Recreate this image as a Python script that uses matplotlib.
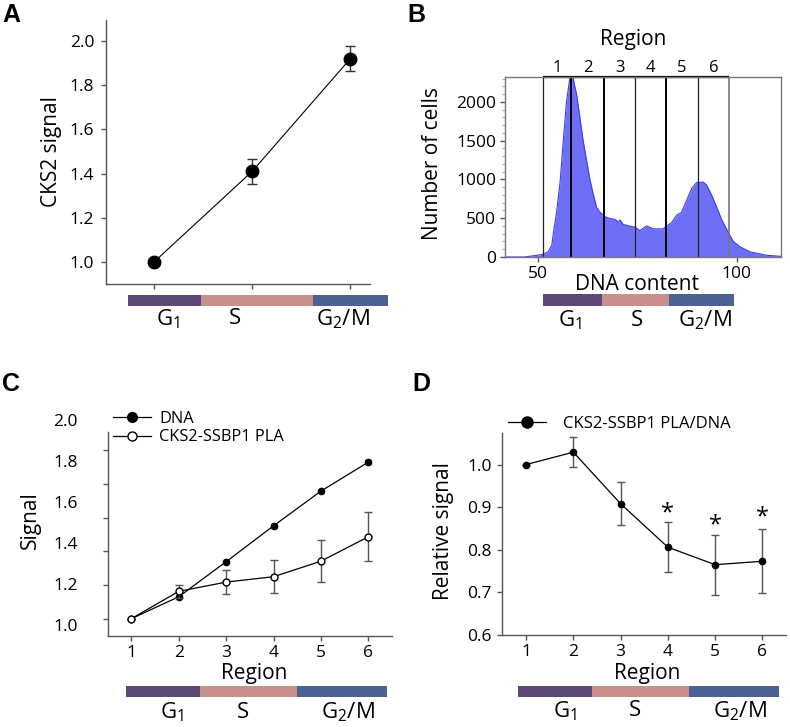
import matplotlib.pyplot as plt
import numpy as np
from matplotlib.lines import Line2D

plt.rcParams['font.family'] = ['Open Sans', 'DejaVu Sans']
plt.rcParams['axes.linewidth'] = 1.0

W, H = 790, 727

# ---- data -------------------------------------------------------------
# A: CKS2 signal per cell cycle phase
phase_x = [1, 2, 3]
cks2_signal = [1.00, 1.41, 1.92]
cks2_err = [0.0, 0.057, 0.058]

# B: DNA content histogram
dna_content = [42.0, 46.4, 48.7, 51.3, 52.5, 53.4, 53.8, 54.6, 55.5, 56.3, 57.1,
               58.0, 58.8, 59.7, 61.3, 63.0, 63.9, 64.7, 65.5, 66.8, 68.1, 69.3,
               70.2, 70.6, 71.4, 73.1, 74.4, 75.6, 77.3, 79.0, 81.5, 82.4, 83.6,
               84.9, 86.1, 87.4, 88.7, 89.9, 91.6, 92.4, 93.7, 95.0, 96.2, 97.5,
               98.2, 99.2, 100.8, 103.4, 107.6, 110.9, 111.2]
cell_counts = [0, 0, 15, 35, 70, 150, 310, 575, 970, 1500, 2000,
               2320, 2300, 2080, 1500, 1000, 800, 640, 580, 520, 495, 487,
               450, 478, 420, 398, 385, 340, 400, 363, 363, 400, 442,
               540, 575, 730, 885, 960, 965, 930, 800, 640, 487, 354,
               288, 200, 133, 66, 22, 9, 9]
region_edges = [51.3, 58.2, 66.6, 74.4, 82.1, 90.2, 98.2]
region_names = ['1', '2', '3', '4', '5', '6']

# C: signal per region
regions = [1, 2, 3, 4, 5, 6]
dna_signal = [1.00, 1.130, 1.338, 1.551, 1.757, 1.929]
dna_err = [0.0, 0.008, 0.010, 0.012, 0.008, 0.010]
pla_signal = [1.00, 1.162, 1.217, 1.249, 1.341, 1.486]
pla_err = [0.0, 0.040, 0.070, 0.098, 0.126, 0.146]

# D: relative signal PLA/DNA
rel_signal = [1.000, 1.029, 0.908, 0.806, 0.765, 0.773]
rel_err = [0.0, 0.035, 0.050, 0.058, 0.070, 0.075]
signif_regions = [4, 5, 6]
signif_y = [0.885, 0.857, 0.875]

# phase bars: fractional boundaries of G1 / S / G2M along each bar
phase_labels = ['$\\mathregular{G_1}$', 'S', '$\\mathregular{G_2/M}$']
phase_colors = ['#5d4878', '#c98f8d', '#4a6192']

GRAY = '#555555'


def fx(x):
    return x / W


def fy(y):
    return 1 - y / H


def box(l, t, r, b):
    return [fx(l), fy(b), (r - l) / W, (b - t) / H]


def style_ax(ax):
    for s in ['top', 'right']:
        ax.spines[s].set_visible(False)
    for s in ['left', 'bottom']:
        ax.spines[s].set_color(GRAY)
    ax.tick_params(colors=GRAY, labelcolor='black', length=3.5, width=1,
                   labelsize=12.5, pad=3)


def phase_bar(l, t, r, b, bounds, label_pos, label_y):
    bax = fig.add_axes(box(l, t, r, b))
    starts = [0] + bounds
    ends = bounds + [1]
    bax.barh(0, np.subtract(ends, starts), left=starts, height=1,
             color=phase_colors)
    bax.set_xlim(0, 1)
    bax.set_ylim(-0.5, 0.5)
    bax.axis('off')
    for lab, p in zip(phase_labels, label_pos):
        fig.text(fx(l + p * (r - l)), fy(label_y), lab, ha='center',
                 va='center', fontsize=16)


fig = plt.figure(figsize=(W / 100, H / 100), dpi=100)

# ---- A ------------------------------------------------------------------
axA = fig.add_axes(box(106, 20, 370, 284))
axA.errorbar(phase_x, cks2_signal, yerr=cks2_err, fmt='-o', color='black',
             lw=0.8, ms=9, ecolor='#333333', elinewidth=1, capsize=3.5)
axA.set_xlim(0.51, 3.2)
axA.set_ylim(0.90, 2.095)
axA.set_xticks(phase_x)
axA.set_xticklabels([])
axA.set_yticks([1.0, 1.2, 1.4, 1.6, 1.8, 2.0])
axA.set_yticklabels(['1.0', '1.2', '1.4', '1.6', '1.8', '2.0'])
style_ax(axA)
axA.tick_params(axis='y', pad=5)
fig.text(fx(52), fy(152), 'CKS2 signal', rotation=90, ha='center',
         va='center', fontsize=15)
phase_bar(128, 295, 388, 306, [0.281, 0.712], [0.154, 0.41, 0.827], 319)

# ---- B ------------------------------------------------------------------
axB = fig.add_axes(box(505, 77, 781, 257))
axB.fill_between(dna_content, cell_counts, color='#6e6ef6', lw=0)
axB.plot(dna_content, cell_counts, color='#3d3df0', lw=0.8)
axB.set_xlim(41.6, 111.2)
axB.set_ylim(0, 2320)
edge_w = [0.9, 1.4, 1.4, 0.9, 1.4, 0.9, 1.2]
edge_c = ['#222222', 'black', 'black', '#222222', 'black', '#222222', '#777777']
for e, w, c in zip(region_edges, edge_w, edge_c):
    axB.axvline(e, color=c, lw=w)
axB.hlines(2320, region_edges[0], region_edges[-1], color='black', lw=1.6,
           clip_on=False)
for i, name in enumerate(region_names):
    mid = (region_edges[i] + region_edges[i + 1]) / 2
    axB.text(mid, 1.05, name, transform=axB.get_xaxis_transform(),
             ha='center', va='center', fontsize=12)
axB.set_xticks([50, 100])
axB.set_yticks([0, 500, 1000, 1500, 2000])
axB.set_yticks(np.arange(0, 2320, 100), minor=True)
for s in axB.spines.values():
    s.set_color('#777777')
axB.tick_params(colors=GRAY, labelcolor='black', length=3.5, width=1,
                labelsize=12.5, pad=3)
axB.tick_params(axis='y', which='minor', length=2, width=0.6, colors='#999999')
fig.text(fx(633), fy(39), 'Region', ha='center', va='center', fontsize=15)
fig.text(fx(637), fy(284), 'DNA content', ha='center', va='center',
         fontsize=15)
fig.text(fx(433), fy(164), 'Number of cells', rotation=90, ha='center',
         va='center', fontsize=15)
phase_bar(543, 294, 734, 306, [0.309, 0.660], [0.141, 0.492, 0.848], 320)

# ---- C ------------------------------------------------------------------
axC = fig.add_axes(box(108, 432, 392, 636))
axC.errorbar(regions, dna_signal, yerr=dna_err, fmt='-o', color='black',
             lw=0.9, ms=4.5, ecolor='black', elinewidth=1, capsize=2.5,
             zorder=3)
axC.errorbar(regions, pla_signal, yerr=pla_err, fmt='-o', color='black',
             mfc='white', mec='black', lw=0.9, ms=5, ecolor=GRAY,
             elinewidth=1, capsize=3, zorder=4)
axC.set_xlim(0.507, 6.5)
axC.set_ylim(0.897, 2.108)
axC.set_xticks(regions)
axC.set_yticks([1.0, 1.2, 1.4, 1.6, 1.8, 2.0])
axC.set_yticklabels([])
style_ax(axC)
# tick labels sit slightly off their tick marks in the original figure
for lab, ypx in zip(['1.0', '1.2', '1.4', '1.6', '1.8', '2.0'],
                    np.linspace(626.7, 421.7, 6)):
    fig.text(fx(78), fy(ypx), lab, ha='right', va='center', fontsize=12.5)
fig.text(fx(30), fy(520), 'Signal', rotation=90, ha='center', va='center',
         fontsize=15)
fig.text(fx(254), fy(673), 'Region', ha='center', va='center', fontsize=15)
hC = [Line2D([], [], color='black', lw=0.9, marker='o', ms=7),
      Line2D([], [], color='black', lw=0.9, marker='o', ms=6.5, mfc='white')]
fig.legend(hC, ['DNA', 'CKS2-SSBP1 PLA'], loc='upper left',
           bbox_to_anchor=(fx(113), fy(411)), frameon=False, fontsize=11.8,
           handlelength=2.3, handletextpad=0.5, labelspacing=0.15,
           borderpad=0, borderaxespad=0)
phase_bar(126, 686, 387, 697, [0.284, 0.655], [0.176, 0.449, 0.851], 712)

# ---- D ------------------------------------------------------------------
axD = fig.add_axes(box(502, 433, 786, 635))
axD.errorbar(regions, rel_signal, yerr=rel_err, fmt='-o', color='black',
             lw=0.9, ms=4.5, ecolor=GRAY, elinewidth=1, capsize=3)
for r, y in zip(signif_regions, signif_y):
    axD.text(r, y, '*', ha='center', va='center', fontsize=17)
axD.set_xlim(0.49, 6.5)
axD.set_ylim(0.6, 1.074)
axD.set_xticks(regions)
axD.set_yticks([0.6, 0.7, 0.8, 0.9, 1.0])
axD.set_yticklabels(['0.6', '0.7', '0.8', '0.9', '1.0'])
style_ax(axD)
axD.tick_params(axis='y', pad=4)
fig.text(fx(443), fy(531), 'Relative signal', rotation=90, ha='center',
         va='center', fontsize=15)
fig.text(fx(647), fy(673), 'Region', ha='center', va='center', fontsize=15)
hD = [Line2D([], [], color='black', lw=0.9, marker='o', ms=8)]
fig.legend(hD, ['CKS2-SSBP1 PLA/DNA'], loc='upper left',
           bbox_to_anchor=(fx(508), fy(416)), frameon=False, fontsize=12,
           handlelength=2.3, handletextpad=1.0, borderpad=0, borderaxespad=0)
phase_bar(518, 686, 779, 697, [0.285, 0.656], [0.179, 0.447, 0.85], 711)

# ---- panel letters --------------------------------------------------------
for letter, (x, y) in zip('ABCD', [(2, 3), (407, 3), (2, 372), (412, 372)]):
    fig.text(fx(x), fy(y), letter, ha='left', va='top', fontsize=18,
             fontweight='bold', family='Liberation Sans')

fig.savefig('out.png', dpi=100)
